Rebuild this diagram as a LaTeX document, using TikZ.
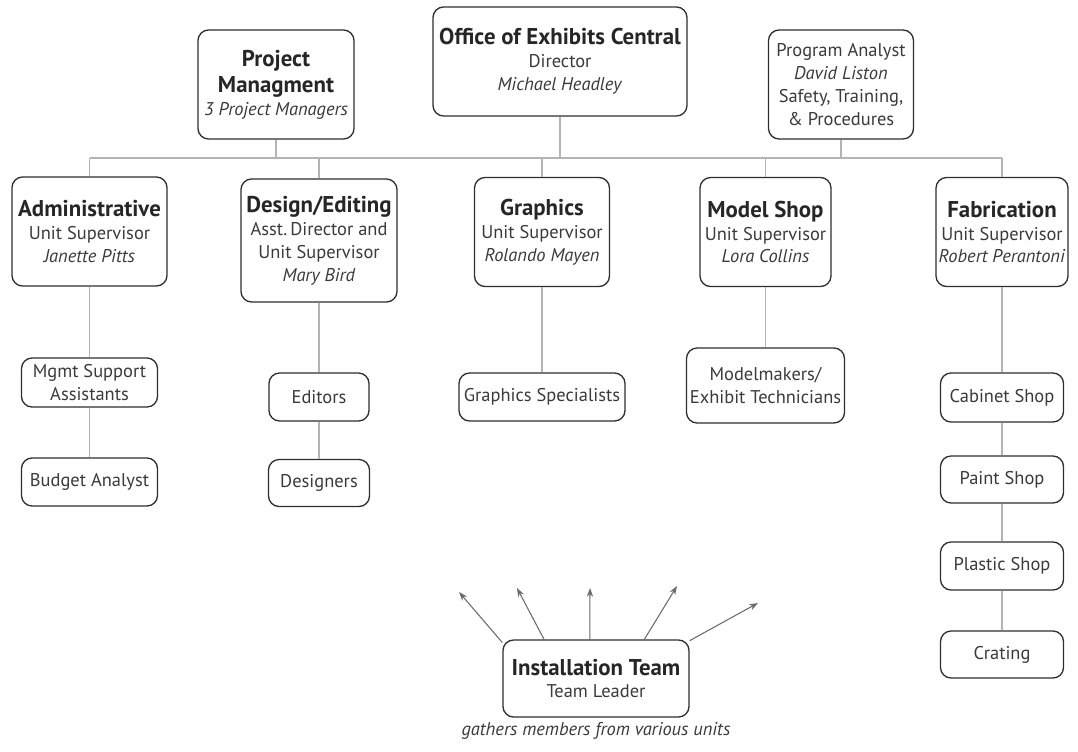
\documentclass[tikz,border=0pt]{standalone}
\usepackage{fontspec}
\setmainfont{PT Sans}
\usetikzlibrary{arrows.meta}

\definecolor{inkgray}{HTML}{3A3A3A}
\definecolor{edgegray}{HTML}{2E2E2E}
\definecolor{linegray}{HTML}{B4B4B4}
\definecolor{arrowgray}{HTML}{6A6A6A}

\newcommand{\head}[1]{{\fontsize{13}{15}\selectfont\bfseries\color{black!85}#1}}

\begin{document}
\begin{tikzpicture}[
	x=0.02cm, y=-0.02cm,
	box/.style={
		draw=edgegray,
		line width=0.75pt,
		rounded corners=6pt,
		align=center,
		inner sep=1pt,
		text=inkgray,
		font=\fontsize{10.5}{13}\selectfont,
	},
	boxsize/.style 2 args={minimum width=#1*0.02cm, minimum height=#2*0.02cm},
	link/.style={draw=linegray, line width=1pt},
	reach/.style={draw=arrowgray, line width=0.6pt, -{Stealth[length=5pt,width=3.6pt]}},
]
\useasboundingbox (0,0) rectangle (1078,751);

% top row
\node[box, boxsize={254}{109}] (office) at (560,61.5) {\head{Office of Exhibits Central} \\ Director \\ \textit{Michael Headley}};
\node[box, boxsize={156}{109}] (pm) at (276,84.5) {\head{Project} \\[2pt] \head{Managment} \\ \textit{3 Project Managers}};
\node[box, boxsize={145}{109}] (pa) at (841,84.5) {Program Analyst \\ \textit{David Liston} \\ Safety, Training, \\ \& Procedures};

% units
\node[box, boxsize={155}{109}] (admin) at (89.5,231.5) {\head{Administrative} \\ Unit Supervisor \\ \textit{Janette Pitts}};
\node[box, boxsize={156}{123}] (design) at (319,240.5) {\head{Design/Editing} \\ Asst.\,Director and \\ Unit Supervisor \\ \textit{Mary Bird}};
\node[box, boxsize={135}{109}] (graphics) at (542,232) {\head{Graphics} \\ Unit Supervisor \\ \textit{Rolando Mayen}};
\node[box, boxsize={131}{109}] (model) at (765.5,232) {\head{Model Shop} \\ Unit Supervisor \\ \textit{Lora Collins}};
\node[box, boxsize={132}{109}] (fab) at (1002,232) {\head{Fabrication} \\ Unit Supervisor \\ \textit{Robert Perantoni}};

% sections
\node[box, boxsize={136}{49}] (mgmt) at (89.5,382.5) {Mgmt Support \\ Assistants};
\node[box, boxsize={136}{48}] (budget) at (89.5,482) {Budget Analyst};
\node[box, boxsize={100}{48}] (editors) at (319,397) {Editors};
\node[box, boxsize={101}{47}] (designers) at (319,483) {Designers};
\node[box, boxsize={166}{48}] (gspec) at (542,397) {Graphics Specialists};
\node[box, boxsize={158}{75}] (makers) at (765.5,385.5) {Modelmakers/ \\ Exhibit Technicians};
\node[box, boxsize={123}{49}] (cabinet) at (1002,397.5) {Cabinet Shop};
\node[box, boxsize={123}{47}] (paint) at (1002,479.5) {Paint Shop};
\node[box, boxsize={123}{48}] (plastic) at (1002,566) {Plastic Shop};
\node[box, boxsize={123}{47}] (crating) at (1002,654.5) {Crating};

% installation team
\node[box, boxsize={186}{77}] (inst) at (596,678.5) {\head{Installation Team} \\ Team Leader};
\node[text=inkgray, font=\fontsize{10.5}{13}\selectfont\itshape] (gathers) at (596,731) {gathers members from various units};

% bus
\coordinate (bus) at (0,158);
\draw[link] (admin |- bus) -- (fab |- bus);
\foreach \n in {pm,office,pa,admin,design,graphics,model,fab}
	\draw[link] (\n) -- (\n |- bus);

\draw[link] (admin) -- (mgmt) -- (budget);
\draw[link] (design) -- (editors) -- (designers);
\draw[link] (graphics) -- (gspec);
\draw[link] (model) -- (makers);
\draw[link] (fab) -- (cabinet) -- (paint) -- (plastic) -- (crating);

% arrows to the units
\coordinate (t1) at (459,592);
\coordinate (t2) at (517,588);
\coordinate (t3) at (590,588);
\coordinate (t4) at (677,586);
\coordinate (t5) at (758,603);
\draw[reach] (inst.159) -- (t1);
\draw[reach] (inst.143) -- (t2);
\draw[reach] (inst.99) -- (t3);
\draw[reach] (inst.39) -- (t4);
\draw[reach] (inst.22) -- (t5);

\end{tikzpicture}
\end{document}
